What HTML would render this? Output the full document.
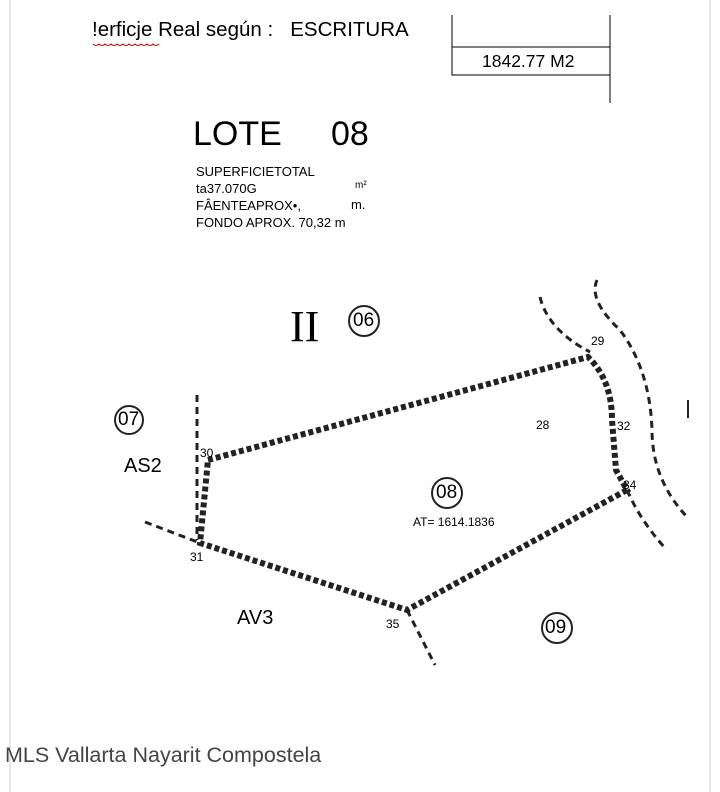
<!DOCTYPE html>
<html><head><meta charset="utf-8"><style>
html,body{margin:0;padding:0;background:#fff;}
body{width:720px;height:792px;position:relative;overflow:hidden;font-family:"Liberation Sans",sans-serif;}
.t{position:absolute;white-space:nowrap;color:#000;}
</style></head><body>
<svg width="720" height="792" style="position:absolute;left:0;top:0">
<line x1="10" y1="0" x2="10" y2="792" stroke="#ccc" stroke-width="1"/>
<line x1="710" y1="0" x2="710" y2="792" stroke="#ccc" stroke-width="1"/>
<line x1="452" y1="15" x2="452" y2="75" stroke="#000"/>
<line x1="452" y1="47" x2="610" y2="47" stroke="#000"/>
<rect x="452" y="47" width="158" height="28" fill="none" stroke="#000"/>
<line x1="610" y1="15" x2="610" y2="103" stroke="#000"/>
<path d="M93 44 q3 3 6 0 q3 3 6 0 q3 3 6 0 q3 3 6 0 q3 3 6 0 q3 3 6 0 q3 3 6 0 q3 3 6 0 q3 3 6 0 q3 3 6 0 q3 3 6 0" fill="none" stroke="#c00" stroke-width="1"/>
<g fill="none" stroke="#222" stroke-width="6" stroke-dasharray="5 3">
<path d="M208 460 L588 357 Q612 380 612 420 L616 470 L627 490 L407 610 L200 543 Z"/>
</g>
<g fill="none" stroke="#222" stroke-width="3" stroke-dasharray="7 5">
<path d="M540 297 Q548 330 590 352"/>
<path d="M597 280 Q588 300 620 330 Q650 370 652 430 Q652 480 688 518"/>
<path d="M627 490 Q640 520 665 548"/>
<path d="M197 395 L197 540"/>
<path d="M145 522 L200 543"/>
<path d="M407 610 L435 665"/>
</g>
<line x1="688" y1="400" x2="688" y2="418" stroke="#222" stroke-width="2"/>
<circle cx="129" cy="420" r="14" fill="none" stroke="#222" stroke-width="2"/>
<circle cx="364" cy="321" r="15" fill="none" stroke="#222" stroke-width="2"/>
<circle cx="447" cy="493" r="15" fill="none" stroke="#222" stroke-width="2"/>
<circle cx="557" cy="628" r="15" fill="none" stroke="#222" stroke-width="2"/>
</svg>
<div class="t" style="left:92px;top:18px;font-size:20.5px">!erficje Real según :&nbsp;&nbsp; ESCRITURA</div>
<div class="t" style="left:482px;top:51px;font-size:17.5px">1842.77 M2</div>
<div class="t" style="left:193px;top:115px;font-size:34px">LOTE</div>
<div class="t" style="left:331px;top:115px;font-size:34px">08</div>
<div class="t" style="left:196px;top:163px;font-size:13px;line-height:17px">SUPERFICIETOTAL<br>ta37.070G<br>FÂENTEAPROX•,<br>FONDO APROX. 70,32 m</div>
<div class="t" style="left:355px;top:180px;font-size:10px">m²</div>
<div class="t" style="left:351px;top:197px;font-size:13px">m.</div>
<div class="t" style="left:290px;top:301px;font-size:44px;font-family:'Liberation Serif',serif">II</div>
<div class="t" style="left:353px;top:310px;font-size:19px">06</div>
<div class="t" style="left:118px;top:409px;font-size:19px">07</div>
<div class="t" style="left:436px;top:482px;font-size:19px">08</div>
<div class="t" style="left:545px;top:617px;font-size:19px">09</div>
<div class="t" style="left:124px;top:455px;font-size:20px">AS2</div>
<div class="t" style="left:237px;top:607px;font-size:20px">AV3</div>
<div class="t" style="left:413px;top:515px;font-size:12px">AT= 1614.1836</div>
<div class="t" style="left:536px;top:418px;font-size:12px">28</div>
<div class="t" style="left:591px;top:334px;font-size:12px">29</div>
<div class="t" style="left:200px;top:446px;font-size:12px">30</div>
<div class="t" style="left:190px;top:550px;font-size:12px">31</div>
<div class="t" style="left:617px;top:419px;font-size:12px">32</div>
<div class="t" style="left:623px;top:478px;font-size:12px">34</div>
<div class="t" style="left:386px;top:617px;font-size:12px">35</div>
<div class="t" style="left:5px;top:743px;font-size:21.5px;color:#444">MLS Vallarta Nayarit Compostela</div>
</body></html>
